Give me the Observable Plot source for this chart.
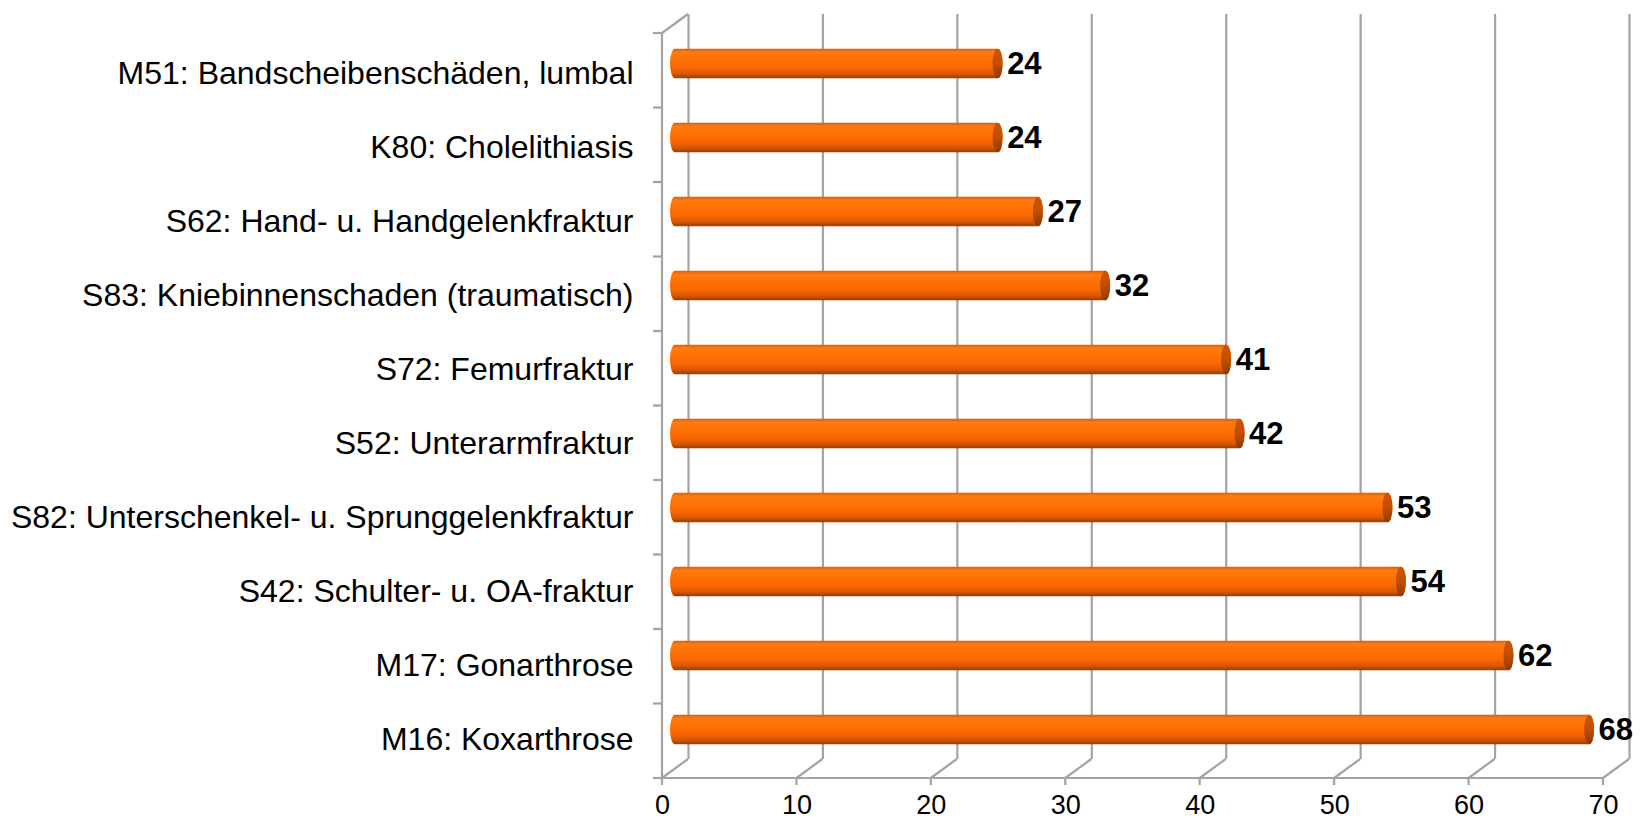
<!DOCTYPE html>
<html>
<head>
<meta charset="utf-8">
<script src="https://cdn.jsdelivr.net/npm/d3@7"></script>
<script src="https://cdn.jsdelivr.net/npm/@observablehq/plot@0.6"></script>
<style>
  html, body { margin: 0; padding: 0; background: #fff; overflow: hidden; }
</style>
</head>
<body>
<div id="chart"></div>
<script>
// ---- data ----
const categories = [
  "M51: Bandscheibenschäden, lumbal",
  "K80: Cholelithiasis",
  "S62: Hand- u. Handgelenkfraktur",
  "S83: Kniebinnenschaden (traumatisch)",
  "S72: Femurfraktur",
  "S52: Unterarmfraktur",
  "S82: Unterschenkel- u. Sprunggelenkfraktur",
  "S42: Schulter- u. OA-fraktur",
  "M17: Gonarthrose",
  "M16: Koxarthrose"
];
const values = [24, 24, 27, 32, 41, 42, 53, 54, 62, 68];
const xTicks = [0, 10, 20, 30, 40, 50, 60, 70];

const data = categories.map((c, i) => ({cat: c, value: values[i]}));

// ---- 3D look constants ----
const DX = 26, DY = -19;           // depth offset of back wall
const GRID = "#A3A3A3";
const GW = 2.2;

// custom decorations: front walls, axis lines, ticks, floor diagonals
function decorations(index, scales, values_, dims) {
  const x = scales.x;
  const {marginTop, marginBottom, height} = dims;
  const top = marginTop, bottom = height - marginBottom;
  const g = d3.create("svg:g").attr("stroke", GRID).attr("stroke-width", GW).attr("fill", "none");
  const x0 = x(0);
  g.append("line").attr("x1", x0).attr("x2", x0).attr("y1", top).attr("y2", bottom);
  g.append("line").attr("x1", x0).attr("y1", top).attr("x2", x0 + DX).attr("y2", top + DY);
  const n = categories.length;
  for (let i = 0; i <= n; i++) {
    const yy = top + (bottom - top) * i / n;
    g.append("line").attr("x1", x0 - 9).attr("x2", x0).attr("y1", yy).attr("y2", yy);
  }
  g.append("line").attr("x1", x0).attr("x2", x(xTicks[xTicks.length - 1])).attr("y1", bottom).attr("y2", bottom);
  for (const t of xTicks) {
    const xx = x(t);
    g.append("line").attr("x1", xx).attr("x2", xx).attr("y1", bottom).attr("y2", bottom + 7);
    g.append("line").attr("x1", xx).attr("y1", bottom).attr("x2", xx + DX).attr("y2", bottom + DY);
  }
  return g.node();
}

const plot = Plot.plot({
  width: 1643,
  height: 818,
  marginLeft: 662,
  marginRight: 40,
  marginTop: 33,
  marginBottom: 40,
  style: {fontFamily: "'Liberation Sans', Arial, sans-serif", background: "#fff", color: "#000", overflow: "visible"},
  x: {domain: [0, 70], ticks: xTicks},
  y: {domain: categories, padding: 0},
  marks: [
    Plot.ruleX(xTicks, {x: d => d, dx: DX, dy: DY, stroke: GRID, strokeWidth: GW}),
    decorations,
    Plot.barX(data, {
      x1: 0, x2: "value", y: "cat",
      fill: "url(#cylBody)",
      insetTop: 22.25, insetBottom: 22.25,
      insetLeft: -5, insetRight: -5,
      dx: DX / 2, dy: DY / 2,
      rx: 5, ry: 15
    }),
    Plot.barX(data, {
      x1: "value", x2: "value", y: "cat",
      fill: "url(#cylCap)",
      insetTop: 22.25, insetBottom: 22.25,
      insetLeft: -5, insetRight: -5,
      dx: DX / 2, dy: DY / 2,
      rx: 5, ry: 15
    }),
    Plot.text(data, {
      x: "value", y: "cat", text: d => String(d.value),
      dx: 22, dy: DY / 2,
      textAnchor: "start", fontWeight: "bold", fontSize: 31, fill: "#000"
    }),
    Plot.axisY({tickSize: 0, tickPadding: 29, fontSize: 32, label: null}),
    Plot.axisX({ticks: xTicks, tickSize: 0, tickPadding: 16, fontSize: 27, label: null})
  ]
});

const svg = plot.tagName.toLowerCase() === "svg" ? plot : plot.querySelector("svg");
d3.select(svg).insert("defs", ":first-child").html(`
  <linearGradient id="cylBody" x1="0" y1="0" x2="0" y2="1">
    <stop offset="0" stop-color="#E25C00"/>
    <stop offset="0.12" stop-color="#FF7C16"/>
    <stop offset="0.35" stop-color="#FF7305"/>
    <stop offset="0.65" stop-color="#F96600"/>
    <stop offset="0.85" stop-color="#D85600"/>
    <stop offset="1" stop-color="#9A3D00"/>
  </linearGradient>
  <linearGradient id="cylCap" x1="0" y1="0" x2="0" y2="1">
    <stop offset="0" stop-color="#D05400"/>
    <stop offset="0.5" stop-color="#C24E00"/>
    <stop offset="1" stop-color="#8F3A00"/>
  </linearGradient>
`);
document.getElementById("chart").appendChild(plot);
</script>
</body>
</html>
